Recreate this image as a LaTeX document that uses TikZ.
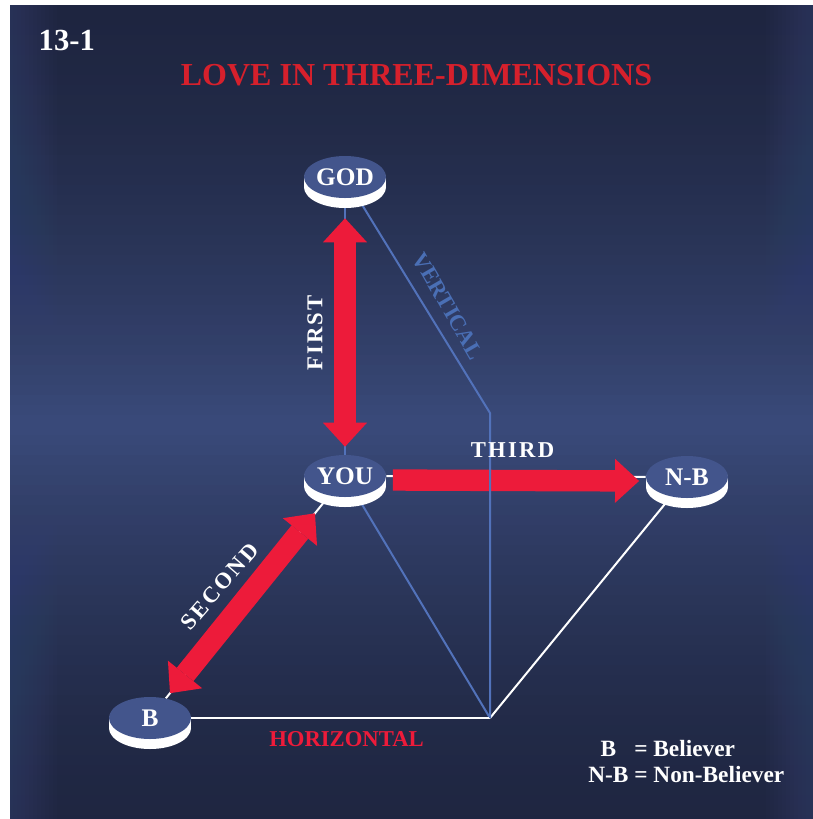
\documentclass[tikz,border=0pt]{standalone}
\usepackage{fontspec}
\setmainfont{Liberation Serif}
\usetikzlibrary{shapes.geometric,arrows.meta}
\definecolor{bgdark}{RGB}{30,37,64}
\definecolor{bglight}{RGB}{58,74,122}
\definecolor{discblue}{RGB}{67,85,140}
\definecolor{lovered}{RGB}{237,27,58}
\definecolor{titlered}{RGB}{214,32,44}
\definecolor{linkblue}{RGB}{82,114,186}
\definecolor{textblue}{RGB}{74,111,181}
\pgfdeclarelayer{back}
\pgfdeclarelayer{links}
\pgfsetlayers{back,links,main}

\begin{document}
\begin{tikzpicture}[
  x=0.75pt, y=-0.75pt,
  base/.style={preaction={fill=white, transform canvas={yshift=#1}}},
  disc/.style={ellipse, fill=discblue, text=white, minimum width=61.5pt, minimum height=31.5pt, inner xsep=-1pt, inner ysep=0pt, font=\fontsize{19}{22}\selectfont\bfseries, base=-1.5pt, base=-3pt, base=-4.5pt, base=-6pt, base=-7.5pt},
  whiteline/.style={draw=white, line width=1.5pt},
  blueline/.style={draw=linkblue, line width=1.5pt},
  redarrow/.style={draw=lovered, line width=16pt, >={Triangle[width=33pt, length=18pt, line width=0pt]}},
  armlabel/.style={text=white, font=\fontsize{17}{20}\selectfont\bfseries\addfontfeature{LetterSpace=10}},
  axislabel/.style={font=\fontsize{17}{20}\selectfont\bfseries}
]
\useasboundingbox (0,0) rectangle (813,819);

% Panel: light band across the middle, lighter side edges
\begin{pgfonlayer}{back}
\fill[white] (0,0) rectangle (813,819);
\foreach \i in {0,...,81} {
  \pgfmathsetmacro\mix{100*max(0,1-abs(\i*10+5-420)/420)^1.6}
  \fill[bglight!\mix!bgdark] (10,5+\i*10) rectangle (813,5+\i*10+10.5);
}
\foreach \j in {0,...,11} {
  \fill[bglight, opacity=0.05] (10,5) rectangle (13+\j*4,819);
  \fill[bglight, opacity=0.05] (810-\j*4,5) rectangle (813,819);
}
\end{pgfonlayer}

% Discs
\node[disc] (god) at (345,177) {GOD};
\node[disc] (you) at (345,476) {YOU};
\node[disc] (nb) at (687,477) {N-B};
\node[disc] (b) at (150,718) {B};
\coordinate (vbend) at (490,413);
\coordinate (hub) at (490,718);

% Links
\begin{pgfonlayer}{links}
\draw[whiteline] (you) -- (nb);
\draw[whiteline] (you) -- (b);
\draw[blueline] (god) -- (you);
\draw[blueline] (you) -- (hub);
\draw[whiteline] (b) -- (hub);
\draw[whiteline] (nb) -- (hub);
\draw[redarrow, <->, shorten <=15pt, shorten >=6pt] (god) -- (you);
\draw[redarrow, <->, shorten <=17pt, shorten >=5pt] (you) -- (b);
\draw[redarrow, ->, shorten <=5pt, shorten >=5pt] ([yshift=-3pt]you.east) -- ([yshift=-3pt]nb.west);
\draw[blueline] (god) -- (vbend) -- (hub);
\end{pgfonlayer}

% Labels
\node[font=\fontsize{23}{26}\selectfont\bfseries, text=white, anchor=base west] (fignum) at (34,50) {13-1};
\node[font=\fontsize{24}{28}\selectfont\bfseries, text=titlered, anchor=base] (title) at (416.5,85) {LOVE IN THREE-DIMENSIONS};
\node[armlabel, rotate=90] (first) at (315,333) {FIRST};
\node[armlabel, anchor=base] (third) at (512.5,457) {THIRD};
\node[armlabel, rotate=49] (second) at (219.5,586.5) {SECOND};
\node[axislabel, text=textblue, rotate=-60] (vertical) at (448,306) {VERTICAL};
\node[axislabel, text=lovered, anchor=base] (horizontal) at (346.5,746) {HORIZONTAL};

% Legend
\node[text=white, font=\fontsize{17.5}{19.5}\selectfont\bfseries, anchor=base west, inner sep=0pt] (legend) at (588,756)
  {\begin{tabular}[t]{@{}c@{ }l@{}}B & = Believer\\N-B & = Non-Believer\end{tabular}};

\end{tikzpicture}
\end{document}
